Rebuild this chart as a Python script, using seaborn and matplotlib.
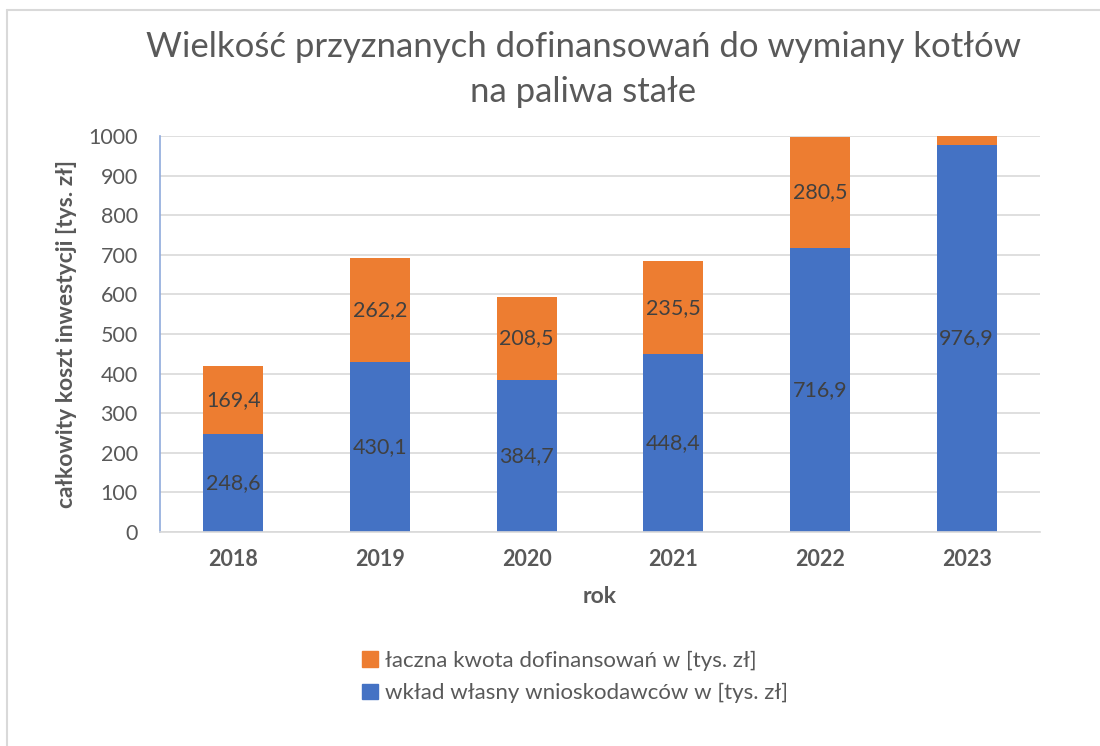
import matplotlib
matplotlib.use("Agg")
import matplotlib.pyplot as plt
import seaborn as sns
import pandas as pd
from matplotlib.lines import Line2D
from matplotlib.patches import Patch

years = ["2018", "2019", "2020", "2021", "2022", "2023"]
wklad = [248.6, 430.1, 384.7, 448.4, 716.9, 976.9]
dofin = [169.4, 262.2, 208.5, 235.5, 280.5, 300.0]  # 2023 value clipped in source

title = "Wielkość przyznanych dofinansowań do wymiany kotłów\nna paliwa stałe"
ylabel = "całkowity koszt inwestycji [tys. zł]"
xlabel = "rok"
lab_dofin = "łaczna kwota dofinansowań w [tys. zł]"
lab_wklad = "wkład własny wnioskodawców w [tys. zł]"

blue = "#4472c4"
orange = "#ed7d31"
txt = "#595959"

sns.set_theme(style="white")
plt.rcParams['font.family'] = ['Lato', 'DejaVu Sans']

df = pd.DataFrame({"rok": years, "wklad": wklad, "dofin": dofin})
df["total"] = df["wklad"] + df["dofin"]

fig = plt.figure(figsize=(11, 7.46), dpi=100)
ax = fig.add_axes([160/1100, 1-532/746, 880/1100, 396/746])

sns.barplot(data=df, x="rok", y="total", color=orange, width=0.41, ax=ax,
            saturation=1, linewidth=0)
sns.barplot(data=df, x="rok", y="wklad", color=blue, width=0.41, ax=ax,
            saturation=1, linewidth=0)

ax.set_ylim(0, 1000)
ax.set_yticks(range(0, 1001, 100))
ax.yaxis.grid(True, color="#d9d9d9", linewidth=1.2)
ax.set_axisbelow(True)
for s in ["top", "right"]:
    ax.spines[s].set_visible(False)
ax.spines["left"].set_color("#8faadc")
ax.spines["left"].set_linewidth(1.2)
ax.spines["bottom"].set_color("#d9d9d9")
ax.spines["bottom"].set_linewidth(1.2)
ax.tick_params(axis="y", labelsize=15.5, colors=txt, length=0, pad=16)
ax.tick_params(axis="x", labelsize=15.5, colors=txt, length=0, pad=12)
for t in ax.get_xticklabels():
    t.set_fontweight("bold")

ax.set_ylabel(ylabel, fontsize=16.5, fontweight="bold", color=txt, labelpad=8)
ax.set_xlabel(xlabel, fontsize=16.5, fontweight="bold", color=txt, labelpad=12)

for i in range(len(years)):
    ax.text(i, wklad[i] / 2, f"{wklad[i]:.1f}".replace(".", ","), ha="center",
            va="center", fontsize=15.5, color="#404040", clip_on=True)
    yc = wklad[i] + dofin[i] / 2
    if yc < 1000:
        ax.text(i, yc, f"{dofin[i]:.1f}".replace(".", ","), ha="center",
                va="center", fontsize=15.5, color="#404040", clip_on=True)

fig.text(583/1100, 1-47/746, title.split("\n")[0], ha="center", va="center",
         fontsize=25, color=txt)
fig.text(583/1100, 1-92/746, title.split("\n")[1], ha="center", va="center",
         fontsize=25, color=txt)

handles = [Patch(color=orange, label=lab_dofin), Patch(color=blue, label=lab_wklad)]
fig.legend(handles=handles, loc="center", bbox_to_anchor=(575/1100, 1-677/746),
           frameon=False, fontsize=16, labelcolor=txt, handlelength=0.7,
           handleheight=0.7, handletextpad=0.3, labelspacing=0.55)

fig.add_artist(Line2D([7/1100, 7/1100], [0, 1-10/746], color="#d9d9d9", lw=1.5))
fig.add_artist(Line2D([7/1100, 1], [1-10/746, 1-10/746], color="#d9d9d9", lw=1.5))

fig.savefig("out.png", dpi=100, facecolor="white")
